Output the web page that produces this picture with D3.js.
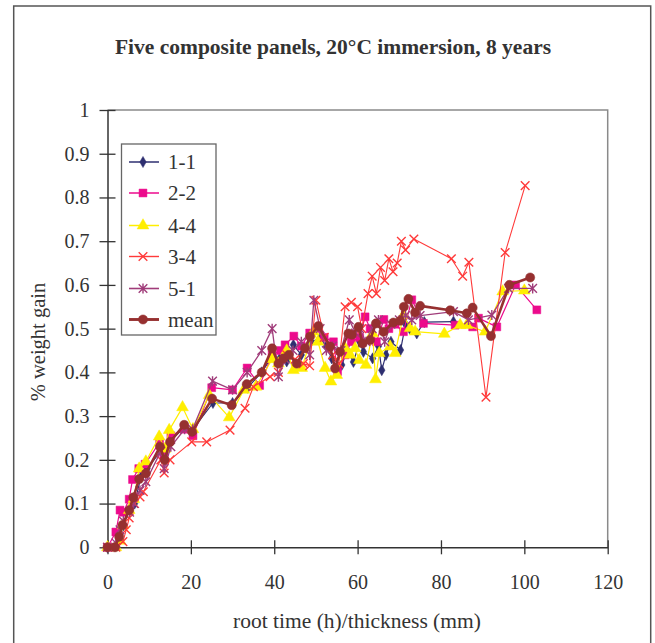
<!DOCTYPE html>
<html>
<head>
<meta charset="utf-8">
<script src="https://cdn.jsdelivr.net/npm/d3@7"></script>
<style>
  html, body { margin: 0; padding: 0; background: #fff; }
  svg { display: block; font-family: "Liberation Serif", "Times New Roman", serif; }
</style>
</head>
<body>
<svg id="chart" width="655" height="643"></svg>
<script>
// Weight gain of five composite panels immersed at 20 °C, plotted against root time / thickness
const chartTitle = "Five composite panels, 20°C immersion, 8 years";
const xLabel = "root time (h)/thickness (mm)";
const yLabel = "% weight gain";
const xTicks = [0, 20, 40, 60, 80, 100, 120];
const yTicks = [0, 0.1, 0.2, 0.3, 0.4, 0.5, 0.6, 0.7, 0.8, 0.9, 1];
const seriesNames = ["1-1", "2-2", "4-4", "3-4", "5-1", "mean"];

const panel11 = [[0,0],[2,0.005],[3,0.03],[3.8,0.05],[5.5,0.09],[6.5,0.1],[8,0.16],[9.5,0.18],[12.8,0.22],[14,0.2],[15.2,0.245],[18.6,0.275],[20.5,0.27],[25.3,0.33],[30,0.33],[33.6,0.365],[37,0.4],[39.7,0.44],[41.2,0.43],[43,0.425],[44.6,0.463],[46.5,0.44],[48.8,0.47],[51,0.478],[52.5,0.46],[53.8,0.432],[56.2,0.417],[57.5,0.45],[59,0.424],[60.5,0.47],[61.4,0.447],[63.6,0.432],[65,0.46],[65.8,0.405],[66.8,0.44],[68,0.47],[70.3,0.451],[71.5,0.51],[72.5,0.5],[74.2,0.489],[76,0.515],[83,0.516]];
const panel22 = [[0,0],[2,0.035],[3,0.085],[3.8,0.08],[5.2,0.11],[6,0.155],[7.5,0.18],[9,0.19],[12.5,0.24],[13.5,0.21],[15.2,0.255],[18.4,0.27],[20.5,0.255],[25,0.365],[30,0.36],[33.5,0.41],[36.5,0.37],[39.5,0.44],[41.5,0.45],[42.6,0.463],[44.7,0.483],[46.5,0.46],[48.5,0.49],[50.5,0.5],[52,0.48],[54.2,0.47],[55.2,0.402],[57,0.44],[58.5,0.47],[60.5,0.48],[61.8,0.527],[63,0.5],[64.5,0.47],[66.3,0.521],[67.5,0.5],[69,0.51],[71,0.493],[73,0.566],[75.8,0.512],[83.4,0.508],[87.6,0.504],[89,0.524],[93.4,0.504],[97.9,0.6],[103,0.543]];
const panel44 = [[0,0],[2,0],[3,0.015],[3.7,0.05],[5.2,0.085],[6.3,0.11],[7.6,0.18],[9.2,0.196],[12.4,0.253],[13.8,0.225],[14.8,0.268],[18,0.32],[20.5,0.27],[24.4,0.348],[29.2,0.297],[32.7,0.36],[35.6,0.367],[39.5,0.43],[41,0.42],[43,0.45],[44.6,0.405],[46.6,0.41],[49.4,0.493],[50.5,0.47],[52.2,0.41],[53.6,0.379],[55,0.394],[57,0.455],[58.2,0.44],[59.4,0.455],[60.4,0.428],[62,0.417],[63.6,0.489],[64.3,0.384],[65.2,0.444],[67.8,0.459],[69,0.444],[71,0.531],[72.6,0.501],[73.8,0.493],[80.8,0.488],[84.6,0.508],[86.2,0.508],[90.6,0.493],[94.8,0.585],[100,0.587]];
const panel34 = [[0,0],[2,0],[3.7,0.013],[4.5,0.04],[5.2,0.067],[6.5,0.1],[7.8,0.115],[8.6,0.127],[12.8,0.2],[13.6,0.17],[15,0.2],[20.2,0.241],[23.8,0.241],[29.4,0.268],[33,0.318],[35,0.367],[39,0.39],[41,0.4],[43,0.44],[45,0.43],[47,0.42],[48.5,0.415],[50,0.565],[52,0.48],[54,0.44],[55.5,0.42],[57,0.55],[58.5,0.56],[60,0.55],[61,0.5],[62.5,0.58],[63.5,0.62],[64.5,0.58],[65.5,0.64],[66.5,0.61],[67.5,0.66],[68.5,0.63],[69.5,0.65],[70.5,0.7],[71.5,0.68],[73.5,0.705],[82.5,0.66],[85.2,0.62],[86.7,0.652],[90.8,0.343],[95.4,0.674],[100.2,0.827]];
const panel51 = [[0,0],[2,0.01],[3,0.04],[3.8,0.06],[5.3,0.08],[6.3,0.1],[7.8,0.13],[9.2,0.15],[12.8,0.22],[13.6,0.18],[15.2,0.23],[18.5,0.27],[20.4,0.27],[25.2,0.38],[30,0.36],[33.5,0.4],[37,0.45],[39.5,0.5],[41,0.39],[42.6,0.43],[44.5,0.45],[46.5,0.47],[48.5,0.44],[49.5,0.565],[51,0.5],[52.5,0.45],[54,0.46],[56,0.45],[58,0.52],[59.5,0.49],[60.5,0.5],[62,0.47],[63.5,0.5],[65,0.52],[66.5,0.47],[68,0.51],[70,0.52],[71.5,0.53],[73,0.52],[75,0.53],[83,0.539],[86.6,0.52],[92.2,0.531],[96.2,0.592],[102,0.592]];
const panelMean = [[0,0],[1.8,0],[2.8,0.024],[3.6,0.051],[5.2,0.085],[6.2,0.114],[7.6,0.156],[9.2,0.169],[12.6,0.23],[13.7,0.2],[15,0.241],[18.4,0.28],[20.3,0.264],[25.1,0.34],[29.8,0.325],[33.4,0.373],[37,0.4],[39.5,0.455],[41,0.42],[42.2,0.432],[43.5,0.44],[45.4,0.42],[47.4,0.455],[48.6,0.482],[50.6,0.506],[53.4,0.459],[54.6,0.409],[55.8,0.447],[57.8,0.489],[58.6,0.486],[60.2,0.504],[61.2,0.466],[63,0.474],[64.4,0.512],[66.2,0.493],[68.6,0.514],[70.2,0.518],[71.1,0.55],[72.2,0.568],[73.8,0.537],[75,0.552],[82.2,0.542],[86.2,0.535],[87.6,0.548],[92,0.483],[96.4,0.6],[101.4,0.617]];

const seriesData = [panel11, panel22, panel44, panel34, panel51, panelMean];
const seriesColors = ["#2e2f70", "#ec0a8c", "#ffee00", "#ff3a3a", "#a03c7a", "#963030"];
const seriesMarkers = ["diamond", "square", "triangle", "x", "star", "circle"];
const seriesWidths = [1.2, 1.2, 1.2, 1.1, 1.3, 2.6];

const svg = d3.select("#chart");
const margin = { left: 107.5, right: 607.7, top: 110, bottom: 547.3 };

const x = d3.scaleLinear().domain([0, 120]).range([margin.left, margin.right]);
const y = d3.scaleLinear().domain([0, 1]).range([margin.bottom, margin.top]);

// outer chart frame
svg.append("rect").attr("x", 13.7).attr("y", 6).attr("width", 637).attr("height", 660)
  .attr("fill", "none").attr("stroke", "#555").attr("stroke-width", 1.5);

// plot area border (top and right)
svg.append("path")
  .attr("d", `M${margin.left},${margin.top}H${margin.right}V${margin.bottom}`)
  .attr("fill", "none").attr("stroke", "#8a8a8a").attr("stroke-width", 1.5);

// title
svg.append("text").attr("x", 333).attr("y", 54).attr("text-anchor", "middle")
  .attr("font-size", 21.5).attr("font-weight", "bold").attr("fill", "#333").text(chartTitle);

// axes
const xAxis = d3.axisBottom(x).tickValues(xTicks).tickSizeInner(7).tickSizeOuter(0).tickPadding(21);
const yAxis = d3.axisLeft(y).tickValues(yTicks).tickSizeInner(8).tickSizeOuter(0).tickPadding(10)
  .tickFormat(d => d === 0 || d === 1 ? d3.format("d")(d) : d3.format(".1f")(d));

const gx = svg.append("g").attr("transform", `translate(0,${margin.bottom})`).call(xAxis);
const gy = svg.append("g").attr("transform", `translate(${margin.left},0)`).call(yAxis);

[gx, gy].forEach(g => {
  g.select(".domain").attr("stroke", "#333").attr("stroke-width", 1.5);
  g.selectAll(".tick line").attr("stroke", "#333").attr("stroke-width", 1.3);
  g.selectAll(".tick text").attr("fill", "#333").attr("font-size", 20)
    .attr("font-family", "Liberation Serif, Times New Roman, serif");
});
// ticks cross the axis line
gx.selectAll(".tick line").attr("y1", -7).attr("y2", 7);
gy.selectAll(".tick line").attr("x1", -8).attr("x2", 8);
gx.selectAll(".tick text").attr("dy", "0.71em");

// axis titles
svg.append("text").attr("x", 357).attr("y", 628).attr("text-anchor", "middle")
  .attr("font-size", 21.5).attr("fill", "#333").text(xLabel);
svg.append("text").attr("transform", "translate(45,342) rotate(-90)").attr("text-anchor", "middle")
  .attr("font-size", 20.5).attr("fill", "#333").text(yLabel);

// marker shapes
function markerPath(kind) {
  switch (kind) {
    case "diamond": return d3.symbol(d3.symbolDiamond, 36)();
    case "square": return d3.symbol(d3.symbolSquare, 62)();
    case "triangle": return d3.symbol(d3.symbolTriangle, 60)();
    case "circle": return d3.symbol(d3.symbolCircle, 66)();
    case "x": return "M-4.3,-4.3L4.3,4.3M-4.3,4.3L4.3,-4.3";
    case "star": return "M-4.3,-4.3L4.3,4.3M-4.3,4.3L4.3,-4.3M0,-5V5";
  }
}

const line = d3.line().x(d => x(d[0])).y(d => y(d[1]));
const plot = svg.append("g");

seriesData.forEach((data, i) => {
  const g = plot.append("g");
  g.append("path").datum(data).attr("d", line)
    .attr("fill", "none").attr("stroke", seriesColors[i]).attr("stroke-width", seriesWidths[i])
    .attr("stroke-linejoin", "round");
  const kind = seriesMarkers[i];
  const stroked = kind === "x" || kind === "star";
  g.selectAll("path.m").data(data).join("path").attr("class", "m")
    .attr("d", markerPath(kind))
    .attr("transform", d => `translate(${x(d[0])},${y(d[1])})`)
    .attr("fill", stroked ? "none" : seriesColors[i])
    .attr("stroke", seriesColors[i])
    .attr("stroke-width", stroked ? 1.4 : 0.5);
});

// legend
const legend = svg.append("g");
legend.append("rect").attr("x", 121.5).attr("y", 144).attr("width", 94.5).attr("height", 191)
  .attr("fill", "#fff").attr("stroke", "#666").attr("stroke-width", 1.3);
const rowY = [162, 193, 225.5, 256.5, 288.5, 319.5];
seriesNames.forEach((name, i) => {
  const row = legend.append("g").attr("transform", `translate(0,${rowY[i]})`);
  row.append("line").attr("x1", 129).attr("x2", 159).attr("y1", 0).attr("y2", 0)
    .attr("stroke", seriesColors[i]).attr("stroke-width", seriesWidths[i] + 0.3);
  const kind = seriesMarkers[i];
  const stroked = kind === "x" || kind === "star";
  row.append("path").attr("d", markerPath(kind)).attr("transform", "translate(143,0)")
    .attr("fill", stroked ? "none" : seriesColors[i]).attr("stroke", seriesColors[i])
    .attr("stroke-width", stroked ? 1.4 : 0.5);
  row.append("text").attr("x", 168).attr("y", 0).attr("dy", "0.35em")
    .attr("font-size", 21).attr("fill", "#333").text(name);
});
</script>
</body>
</html>
